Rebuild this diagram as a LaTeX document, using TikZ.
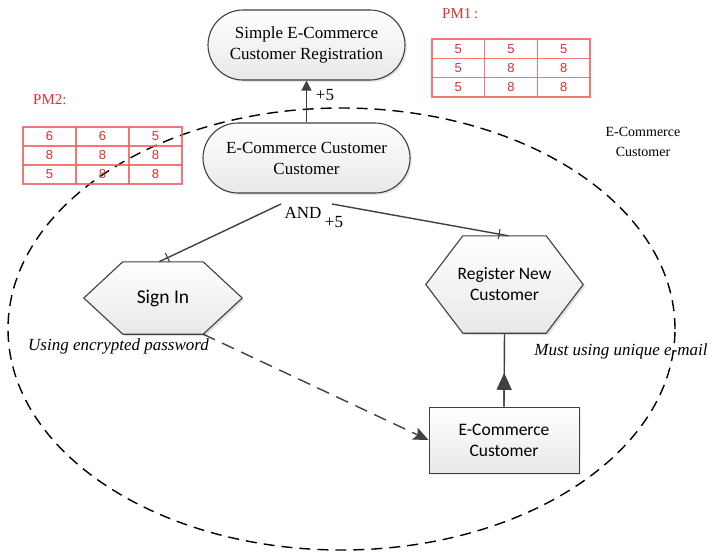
\documentclass[tikz,border=0pt]{standalone}
\usepackage{fontspec}
\setmainfont{Liberation Serif}
\newfontfamily\calib{Carlito}
\newfontfamily\digitfont{Liberation Sans}
\usetikzlibrary{shapes.misc,shapes.geometric,arrows.meta,decorations.markings,shadows,calc,backgrounds}
\definecolor{edge}{RGB}{64,64,64}
\definecolor{pmred}{RGB}{225,45,45}
\definecolor{gridred}{RGB}{240,95,95}
\begin{document}
\begin{tikzpicture}[x=1pt,y=-1pt,
  serif17/.style={font=\fontsize{17}{21}\selectfont},
  sans17/.style={font=\calib\fontsize{17.5}{21}\selectfont},
  stadium/.style={rounded rectangle, draw=edge, line width=1.1pt, top color=white, bottom color=black!9,
     drop shadow={opacity=0.18,shadow xshift=2pt,shadow yshift=-2pt}, align=center, inner sep=0pt, serif17},
  hexbox/.style={inner sep=0pt, align=center, sans17},
  hexdraw/.style={draw=edge, line width=1.1pt, top color=white, bottom color=black!9},
  boxnode/.style={rectangle, draw=edge, line width=1pt, top color=white, bottom color=black!9,
     drop shadow={opacity=0.15,shadow xshift=2pt,shadow yshift=-2pt}, align=center, inner sep=0pt, sans17},
  conn/.style={draw=edge, line width=1.4pt},
  tickend/.style={postaction={decorate}, decoration={markings, mark=at position -9.5pt with {\draw[edge,line width=1.1pt] (0pt,-5pt) -- (0pt,5pt);}}},
  digit/.style={text=pmred, font=\digitfont\fontsize{13}{15}\selectfont, inner sep=0pt},
  pmlabel/.style={text=pmred, font=\fontsize{15}{18}\selectfont, anchor=west, inner sep=0pt},
  gridline/.style={draw=gridred, line width=1.3pt, opacity=0.85},
  lbl/.style={inner sep=0pt, serif17}
]
\useasboundingbox (0,0) rectangle (712,552);

% boundary ellipse
\node[ellipse, draw=black, line width=1.4pt, dash pattern=on 11pt off 7pt,
      minimum width=667pt, minimum height=442pt, inner sep=0pt] (boundary) at (341.5,329) {};

% nodes
\node[stadium, minimum width=197pt, minimum height=70pt] (top) at (306.5,45) {Simple E-Commerce\\Customer Registration};
\node[stadium, minimum width=207pt, minimum height=70pt] (mid) at (306.5,158) {E-Commerce Customer\\Customer};

\node[hexbox, minimum width=158pt, minimum height=72pt, font=\calib\fontsize{19.5}{23}\selectfont] (signin) at (163,298) {Sign In};
\node[hexbox, minimum width=157pt, minimum height=97pt] (reg) at (504.5,284.5) {Register New\\Customer};
\begin{pgfonlayer}{background}
  \fill[black, opacity=0.12] ([shift={(2pt,-2pt)}]signin.west) -- ([shift={(41pt,-2pt)}]signin.north west) -- ([shift={(-37pt,-2pt)}]signin.north east) -- ([shift={(2pt,-2pt)}]signin.east) -- ([shift={(-37pt,-2pt)}]signin.south east) -- ([shift={(41pt,-2pt)}]signin.south west) -- cycle;
  \path[hexdraw] (signin.west) -- ([xshift=39pt]signin.north west) -- ([xshift=-39pt]signin.north east) -- (signin.east) -- ([xshift=-39pt]signin.south east) -- ([xshift=39pt]signin.south west) -- cycle;
  \fill[black, opacity=0.12] ([shift={(2pt,-2pt)}]reg.west) -- ([shift={(39pt,-2pt)}]reg.north west) -- ([shift={(-35pt,-2pt)}]reg.north east) -- ([shift={(2pt,-2pt)}]reg.east) -- ([shift={(-35pt,-2pt)}]reg.south east) -- ([shift={(39pt,-2pt)}]reg.south west) -- cycle;
  \path[hexdraw] (reg.west) -- ([xshift=37pt]reg.north west) -- ([xshift=-37pt]reg.north east) -- (reg.east) -- ([xshift=-37pt]reg.south east) -- ([xshift=37pt]reg.south west) -- cycle;
\end{pgfonlayer}

\node[boxnode, minimum width=150pt, minimum height=66pt] (ecust) at (504,440) {E-Commerce\\Customer};

% labels
\node[lbl] (plusTop) at (325,95) {+5};
\node[lbl] (andlbl) at (303,213) {AND};
\node[lbl] (plusAnd) at (334,222) {+5};
\node[lbl, font=\itshape\fontsize{17}{21}\selectfont, anchor=west] (usingenc) at (28,346) {Using encrypted password};
\node[lbl, font=\itshape\fontsize{17}{21}\selectfont] (mustuse) at (621,351) {Must using unique e-mail};
\node[inner sep=0pt, align=center, font=\fontsize{14}{20}\selectfont] (scope) at (643,142) {E-Commerce\\Customer};

% connectors
\draw[conn, -{Triangle[length=10pt,width=10pt]}] (mid.north) -- (top.south);
\coordinate (andL) at (281,204);
\coordinate (andR) at (332,204);
\draw[conn, tickend] (andL) -- ([xshift=-4pt]signin.north);
\draw[conn, tickend] (andR) -- ([xshift=4pt]reg.north);
\draw[conn] (ecust.north) -- (reg.south);
\draw[conn, -{Triangle[length=17pt,width=15pt]}] (ecust.north) -- ($(ecust.north)!0.46!(reg.south)$);
\draw[conn, dash pattern=on 13pt off 8pt, -{Stealth[length=15pt,width=13pt,inset=3pt]}] ([xshift=-39pt]signin.south east) -- (ecust.west);

% PM1 table
\node[pmlabel] (pm1) at (442,14) {PM1\,:};
\draw[gridline] (432,39) rectangle (590,97);
\foreach \xx in {484.7,537.3} \draw[gridline] (\xx,39) -- (\xx,97);
\foreach \yy in {58.3,77.7} \draw[gridline] (432,\yy) -- (590,\yy);
\foreach \row [count=\r] in {{5,5,5},{5,8,8},{5,8,8}}
  \foreach \v [count=\c] in \row
    \node[digit] (pmA-\r-\c) at (432+52.67*\c-26.33, 39+19.33*\r-9.67) {\v};

% PM2 table
\node[pmlabel] (pm2) at (33,100) {PM2:};
\draw[gridline] (23,127) rectangle (182,184);
\foreach \xx in {76,129} \draw[gridline] (\xx,127) -- (\xx,184);
\foreach \yy in {146,165} \draw[gridline] (23,\yy) -- (182,\yy);
\foreach \row [count=\r] in {{6,6,5},{8,8,8},{5,8,8}}
  \foreach \v [count=\c] in \row
    \node[digit] (pmB-\r-\c) at (23+53*\c-26.5, 127+19*\r-9.5) {\v};
\end{tikzpicture}
\end{document}
